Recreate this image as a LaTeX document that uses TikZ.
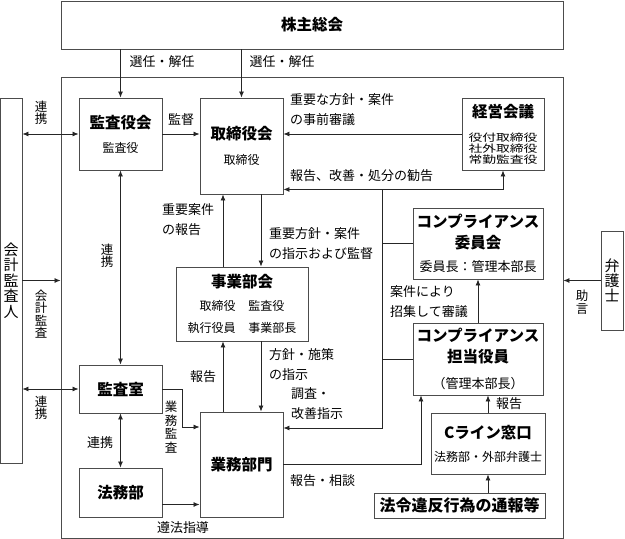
\documentclass[tikz,border=0pt]{standalone}
\usepackage{fontspec}
\setmainfont{Noto Sans CJK JP}
\usetikzlibrary{arrows.meta}
\newcommand{\ttl}[1]{{\bfseries\fontsize{15.5}{15.5}\selectfont #1}}
\newcommand{\sq}[1]{\scalebox{1.15}[0.85]{#1}}
\newcommand{\vtight}{\lineskiplimit=-20pt}
\begin{document}
\begin{tikzpicture}[x=1pt,y=-1pt]
	\tikzstyle{box}=[draw=black!70,line width=0.9pt,inner sep=0pt,align=center,font=\fontsize{12}{22}\selectfont\vtight]
	\tikzstyle{lbl}=[inner sep=0pt,align=left,font=\fontsize{13}{20}\selectfont]
	\tikzstyle{vlbl}=[inner sep=0pt,align=center,font=\fontsize{12.5}{12.5}\selectfont\vtight]
	\tikzstyle{line}=[black!85,line width=0.8pt]
	\tikzstyle{myarrow}=[line,>={Latex[length=6pt,width=5pt]},->]
	\tikzstyle{myboth}=[line,>={Latex[length=6pt,width=5pt]},<->]
	\useasboundingbox (0,0) rectangle (625,539);

	% boxes
	\node[box,minimum width=502,minimum height=48] (kabunushi) at (312,25) {\ttl{株主総会}};
	\node[box,minimum width=502,minimum height=461] (frame) at (312,307.5) {};
	\node[box,minimum width=22,minimum height=365,font=\fontsize{15}{15.6}\selectfont\vtight] (kaikei) at (11,280.5) {会\\計\\監\\査\\人};
	\node[box,minimum width=22,minimum height=99,font=\fontsize{15}{15.2}\selectfont\vtight] (bengoshi) at (612,280.5) {弁\\護\\士};
	\node[box,minimum width=83,minimum height=72] (kansayaku) at (120.5,134) {\ttl{監査役会}\\[2pt]監査役};
	\node[box,minimum width=83,minimum height=96] (torishimari) at (241.5,146) {\ttl{取締役会}\\[3pt]取締役};
	\node[box,minimum width=82,minimum height=72,font=\fontsize{12}{11}\selectfont\vtight] (keiei) at (503,134) {\ttl{経営会議}\\[13pt]\sq{役付取締役}\\\sq{社外取締役}\\\sq{常勤監査役}};
	\node[box,minimum width=132,minimum height=74] (jigyo) at (242,304) {\ttl{事業部会}\\[1pt]取締役\hspace{13pt}監査役\\執行役員\hspace{13pt}事業部長};
	\node[box,minimum width=130,minimum height=71,font=\fontsize{13}{20.5}\selectfont\vtight] (iinkai) at (478,243.5) {\ttl{コンプライアンス}\\\ttl{委員会}\\[3pt]委員長：管理本部長};
	\node[box,minimum width=130,minimum height=72,font=\fontsize{13}{21}\selectfont\vtight] (tanto) at (478,359) {\ttl{コンプライアンス}\\\ttl{担当役員}\\[5pt]（管理本部長）};
	\node[box,minimum width=83,minimum height=48] (kansashitsu) at (120.5,389) {\ttl{監査室}};
	\node[box,minimum width=83,minimum height=49] (homubu) at (120.5,492.5) {\ttl{法務部}};
	\node[box,minimum width=83,minimum height=105] (gyomu) at (241.5,464.5) {\ttl{業務部門}};
	\node[box,minimum width=114,minimum height=61] (cline) at (488,443.5) {\ttl{Cライン窓口}\\[1pt]法務部・外部弁護士};
	\node[box,minimum width=171,minimum height=25,font=\bfseries\fontsize{16}{16}\selectfont] (tsuho) at (459.5,505.5) {法令違反行為の通報等};

	% labels
	\node[lbl] (senin1) at (162,62) {選任・解任};
	\node[lbl] (senin2) at (282,62) {選任・解任};
	\node[lbl] (kantoku) at (181,120) {監督};
	\node[lbl,anchor=west] (jizen) at (290,110) {重要な方針・案件\\の事前審議};
	\node[lbl,anchor=west] (kankoku) at (290,176) {報告、改善・処分の勧告};
	\node[lbl,anchor=west] (juyo) at (162,219.5) {重要案件\\の報告};
	\node[lbl,anchor=west] (shiji) at (269,244) {重要方針・案件\\の指示および監督};
	\node[lbl,anchor=west] (hoshin) at (269,365) {方針・施策\\の指示};
	\node[lbl,anchor=west] (chosa) at (291,404) {調査・\\改善指示};
	\node[lbl] (hokoku1) at (203,377) {報告};
	\node[lbl,anchor=west] (shoshu) at (390,301.5) {案件により\\招集して審議};
	\node[lbl] (hokoku2) at (509,404) {報告};
	\node[lbl,anchor=west] (sodan) at (290,481) {報告・相談};
	\node[lbl] (junpo) at (183,528) {遵法指導};
	\node[lbl] (renkei3) at (100,443) {連携};
	\foreach \n/\x/\y in {renkei1/41/113, renkei2/41/408, renkei4/107/256} {
		\node[vlbl] (\n) at (\x,\y) {連\\携};
	}
	\node[vlbl] (kansa) at (41,314) {会\\計\\監\\査};
	\node[vlbl,font=\fontsize{12.5}{13.5}\selectfont\vtight] (gyomukansa) at (171,427) {業\\務\\監\\査};
	\node[vlbl] (jogen) at (582,302) {助\\言};

	% connectors
	\coordinate (dn) at (261,0);
	\coordinate (up) at (223,0);
	\coordinate (bt) at (382,189);
	\coordinate (bb) at (382,428);
	\coordinate (ka) at (182,427);
	\path ([yshift=-12pt]homubu.east) coordinate (hm);
	\path ([yshift=5pt]torishimari.south east) coordinate (tr);
	\path ([xshift=-57pt]tanto.south) coordinate (ts);

	\draw[myarrow] (kabunushi.south -| kansayaku.north) -- (kansayaku.north);
	\draw[myarrow] (kabunushi.south -| torishimari.north) -- (torishimari.north);
	\draw[myboth] (kaikei.east |- kansayaku.west) -- (kansayaku.west);
	\draw[myarrow] (kansayaku.east) -- (torishimari.west |- kansayaku.east);
	\draw[myarrow] (keiei.west) -- (torishimari.east |- keiei.west);
	\draw[myboth] (tr) -| (keiei.south);
	\draw[myarrow] (dn |- torishimari.south) -- (dn |- jigyo.north);
	\draw[myarrow] (up |- jigyo.north) -- (up |- torishimari.south);
	\draw[myarrow] (dn |- jigyo.south) -- (dn |- gyomu.north);
	\draw[myarrow] (up |- gyomu.north) -- (up |- jigyo.south);
	\draw[myarrow] (bt) -- (bb) -- (bb -| gyomu.east);
	\draw[line] (bt |- iinkai.west) -- (iinkai.west);
	\draw[line] (bt |- tanto.west) -- (tanto.west);
	\draw[myarrow] (kaikei.east) -- (kaikei.east -| frame.west);
	\draw[myboth] (kaikei.east |- kansashitsu.west) -- (kansashitsu.west);
	\draw[myboth] (kansayaku.south) -- (kansashitsu.north);
	\draw[myboth] (kansashitsu.south) -- (homubu.north);
	\draw[myarrow] (kansashitsu.east) -| (ka) -- (ka -| gyomu.west);
	\draw[myarrow] (hm) -- (hm -| gyomu.west);
	\draw[myarrow] (gyomu.east) -| (ts);
	\draw[myarrow] (tanto.north) -- (iinkai.south);
	\draw[myarrow] (cline.north) -- (cline.north |- tanto.south);
	\draw[myarrow] (tsuho.north -| cline.south) -- (cline.south);
	\draw[myarrow] (bengoshi.west) -- (bengoshi.west -| frame.east);
\end{tikzpicture}
\end{document}
